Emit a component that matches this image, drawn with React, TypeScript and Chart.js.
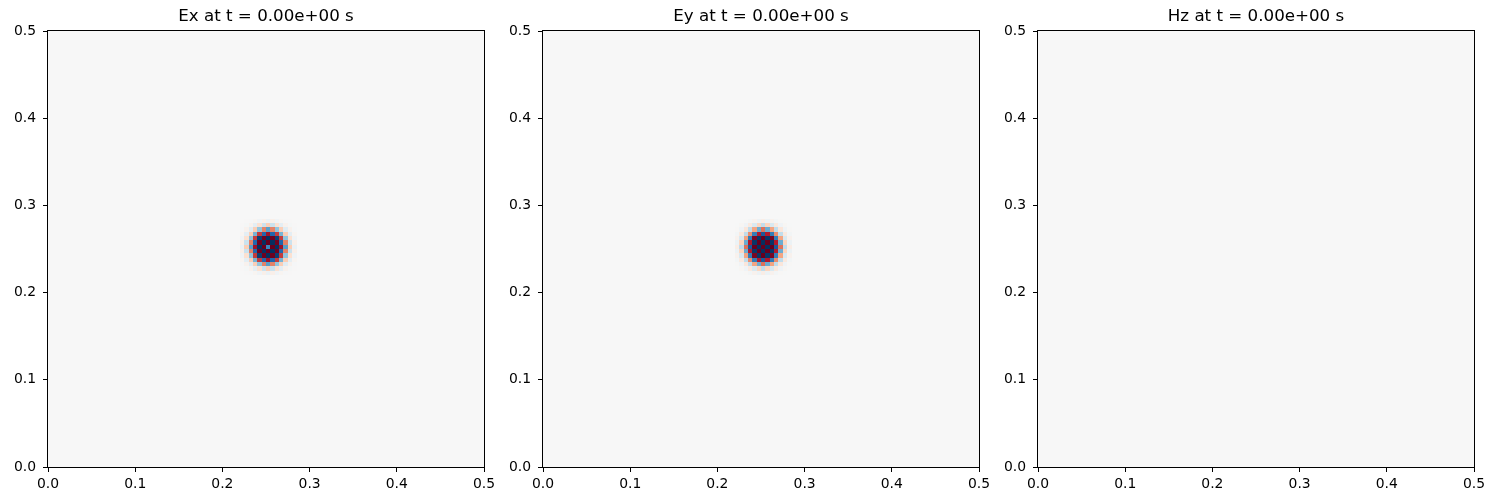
import React, { useEffect, useRef } from 'react';
import { Chart, registerables } from 'chart.js';

Chart.register(...registerables);

// panel titles
const fieldTitles = ['Ex at t = 0.00e+00 s', 'Ey at t = 0.00e+00 s', 'Hz at t = 0.00e+00 s'];

// axis ticks (same on x and y)
const tickValues = [0, 0.1, 0.2, 0.3, 0.4, 0.5];
const tickLabels = ['0.0', '0.1', '0.2', '0.3', '0.4', '0.5'];

// simulation grid: 100 x 100 cells over [0, 0.5] x [0, 0.5]
const gridCells = 100;
const extent = 0.5;

// the non-zero patch sits at columns / rows 44..56, everything else is 0
const blobCol0 = 44;
const blobRow0 = 44;

// rows listed from top (row 56) to bottom (row 44)
const exBlob = [
  [0, -0.005, 0.01, -0.025, 0.04, -0.06, 0.07, -0.06, 0.04, -0.025, 0.01, -0.005, 0],
  [-0.005, 0.015, -0.04, 0.1, -0.16, 0.22, -0.25, 0.22, -0.16, 0.1, -0.04, 0.015, -0.005],
  [0.01, -0.04, 0.12, -0.25, 0.4, -0.5, 0.55, -0.5, 0.4, -0.25, 0.12, -0.04, 0.01],
  [-0.025, 0.1, -0.25, 0.47, -0.7, 0.8, -0.85, 0.8, -0.7, 0.47, -0.25, 0.1, -0.025],
  [0.04, -0.16, 0.4, -0.7, 0.95, -0.98, 1.0, -0.98, 0.95, -0.7, 0.4, -0.16, 0.04],
  [-0.06, 0.22, -0.5, 0.8, -0.98, 1.0, -1.0, 1.0, -0.98, 0.8, -0.5, 0.22, -0.06],
  [0.07, -0.25, 0.55, -0.85, 1.0, -1.0, 0.65, -1.0, 1.0, -0.85, 0.55, -0.25, 0.07],
  [-0.06, 0.22, -0.5, 0.8, -0.98, 1.0, -1.0, 1.0, -0.98, 0.8, -0.5, 0.22, -0.06],
  [0.04, -0.16, 0.4, -0.7, 0.95, -0.98, 1.0, -0.98, 0.95, -0.7, 0.4, -0.16, 0.04],
  [-0.025, 0.1, -0.25, 0.47, -0.7, 0.8, -0.85, 0.8, -0.7, 0.47, -0.25, 0.1, -0.025],
  [0.01, -0.04, 0.12, -0.25, 0.4, -0.5, 0.55, -0.5, 0.4, -0.25, 0.12, -0.04, 0.01],
  [-0.005, 0.015, -0.04, 0.1, -0.16, 0.22, -0.25, 0.22, -0.16, 0.1, -0.04, 0.015, -0.005],
  [0, -0.005, 0.01, -0.025, 0.04, -0.06, 0.07, -0.06, 0.04, -0.025, 0.01, -0.005, 0],
];

const eyBlob = [
  [0, 0.005, -0.01, 0.025, -0.04, 0.06, -0.07, 0.06, -0.04, 0.025, -0.01, 0.005, 0],
  [0.005, -0.015, 0.04, -0.1, 0.16, -0.22, 0.25, -0.22, 0.16, -0.1, 0.04, -0.015, 0.005],
  [-0.01, 0.04, -0.12, 0.25, -0.4, 0.5, -0.55, 0.5, -0.4, 0.25, -0.12, 0.04, -0.01],
  [0.025, -0.1, 0.25, -0.47, 0.7, -0.8, 0.85, -0.8, 0.7, -0.47, 0.25, -0.1, 0.025],
  [-0.04, 0.16, -0.4, 0.7, -0.95, 0.98, -1.0, 0.98, -0.95, 0.7, -0.4, 0.16, -0.04],
  [0.06, -0.22, 0.5, -0.8, 0.98, -1.0, 1.0, -1.0, 0.98, -0.8, 0.5, -0.22, 0.06],
  [-0.07, 0.25, -0.55, 0.85, -1.0, 1.0, -1.0, 1.0, -1.0, 0.85, -0.55, 0.25, -0.07],
  [0.06, -0.22, 0.5, -0.8, 0.98, -1.0, 1.0, -1.0, 0.98, -0.8, 0.5, -0.22, 0.06],
  [-0.04, 0.16, -0.4, 0.7, -0.95, 0.98, -1.0, 0.98, -0.95, 0.7, -0.4, 0.16, -0.04],
  [0.025, -0.1, 0.25, -0.47, 0.7, -0.8, 0.85, -0.8, 0.7, -0.47, 0.25, -0.1, 0.025],
  [-0.01, 0.04, -0.12, 0.25, -0.4, 0.5, -0.55, 0.5, -0.4, 0.25, -0.12, 0.04, -0.01],
  [0.005, -0.015, 0.04, -0.1, 0.16, -0.22, 0.25, -0.22, 0.16, -0.1, 0.04, -0.015, 0.005],
  [0, 0.005, -0.01, 0.025, -0.04, 0.06, -0.07, 0.06, -0.04, 0.025, -0.01, 0.005, 0],
];

// Hz is still zero everywhere
const hzBlob: number[][] = [];

// matplotlib RdBu, -1 -> red, +1 -> blue
const rdBu = [
  '#67001f', '#b2182b', '#d6604d', '#f4a582', '#fddbc7', '#f7f7f7',
  '#d1e5f0', '#92c5de', '#4393c3', '#2166ac', '#053061',
];

const FONT = 'DejaVu Sans';

function hexToRgb(h: string) {
  return [parseInt(h.slice(1, 3), 16), parseInt(h.slice(3, 5), 16), parseInt(h.slice(5, 7), 16)];
}

function colourFor(v: number) {
  const t = Math.min(1, Math.max(0, (v + 1) / 2)) * (rdBu.length - 1);
  const k = Math.min(rdBu.length - 2, Math.floor(t));
  const f = t - k;
  const a = hexToRgb(rdBu[k]);
  const b = hexToRgb(rdBu[k + 1]);
  const c = a.map((x, n) => Math.round(x + (b[n] - x) * f));
  return `rgb(${c[0]},${c[1]},${c[2]})`;
}

const fieldPlugin = {
  id: 'fieldCells',
  beforeDatasetsDraw(chart: any, _args: any, opts: any) {
    const { ctx, chartArea, scales } = chart;
    const rows: number[][] = opts.cells || [];
    const cell = extent / gridCells;
    ctx.save();
    ctx.fillStyle = colourFor(0);
    ctx.fillRect(chartArea.left, chartArea.top, chartArea.width, chartArea.height);
    rows.forEach((row, r) => {
      const j = blobRow0 + rows.length - 1 - r;
      row.forEach((v, c) => {
        if (v === 0) return;
        const i = blobCol0 + c;
        const x0 = Math.round(scales.x.getPixelForValue(i * cell));
        const x1 = Math.round(scales.x.getPixelForValue((i + 1) * cell));
        const y0 = Math.round(scales.y.getPixelForValue((j + 1) * cell));
        const y1 = Math.round(scales.y.getPixelForValue(j * cell));
        ctx.fillStyle = colourFor(v);
        ctx.fillRect(x0, y0, x1 - x0, y1 - y0);
      });
    });
    ctx.restore();
  },
  afterDatasetsDraw(chart: any) {
    const { ctx, chartArea } = chart;
    const l = Math.round(chartArea.left) - 0.5;
    const t = Math.round(chartArea.top) - 0.5;
    const r = Math.round(chartArea.right) + 0.5;
    const b = Math.round(chartArea.bottom) + 0.5;
    ctx.save();
    ctx.strokeStyle = '#000';
    ctx.lineWidth = 1;
    ctx.strokeRect(l, t, r - l, b - t);
    ctx.restore();
  },
};

function axis(position: 'bottom' | 'left') {
  return {
    type: 'linear' as const,
    position,
    min: 0,
    max: extent,
    afterBuildTicks: (scale: any) => {
      scale.ticks = tickValues.map((value) => ({ value }));
    },
    afterFit: (scale: any) => {
      if (position === 'left') scale.width = 48;
      else scale.height = 33;
    },
    ticks: {
      callback: (_v: any, i: number) => tickLabels[i],
      autoSkip: false,
      maxRotation: 0,
      color: '#000',
      padding: position === 'left' ? 7 : 4,
      font: { family: FONT, size: 13.9 },
    },
    grid: {
      drawOnChartArea: false,
      drawTicks: true,
      tickLength: 5,
      tickWidth: 1,
      tickColor: '#000',
    },
    border: { display: false },
  };
}

const FieldPanel: React.FC<{ title: string; cells: number[][] }> = ({ title, cells }) => {
  const canvasRef = useRef<HTMLCanvasElement>(null);

  useEffect(() => {
    if (!canvasRef.current) return;
    const chart = new Chart(canvasRef.current, {
      type: 'scatter',
      data: { datasets: [{ data: [] }] },
      options: {
        animation: false,
        responsive: true,
        maintainAspectRatio: false,
        layout: { padding: { left: 0, right: 26, top: 0, bottom: 0 } },
        scales: { x: axis('bottom'), y: axis('left') } as any,
        plugins: {
          legend: { display: false },
          tooltip: { enabled: false },
          title: {
            display: true,
            text: title,
            fullSize: false,
            color: '#000',
            font: { family: FONT, size: 16.7, weight: 'normal', lineHeight: 1.2 },
            padding: { top: 7, bottom: 4 },
          },
          fieldCells: { cells },
        } as any,
      },
      plugins: [fieldPlugin],
    });
    return () => chart.destroy();
  }, [title, cells]);

  return <canvas ref={canvasRef} />;
};

const panelCells = [exBlob, eyBlob, hzBlob];

export default function App() {
  return (
    <div style={{ position: 'absolute', left: 0, top: 0, width: 1500, height: 500, background: '#fff' }}>
      {fieldTitles.map((t, k) => (
        <div key={t} style={{ position: 'absolute', left: k * 495, top: 0, width: 510, height: 500 }}>
          <FieldPanel title={t} cells={panelCells[k]} />
        </div>
      ))}
    </div>
  );
}
